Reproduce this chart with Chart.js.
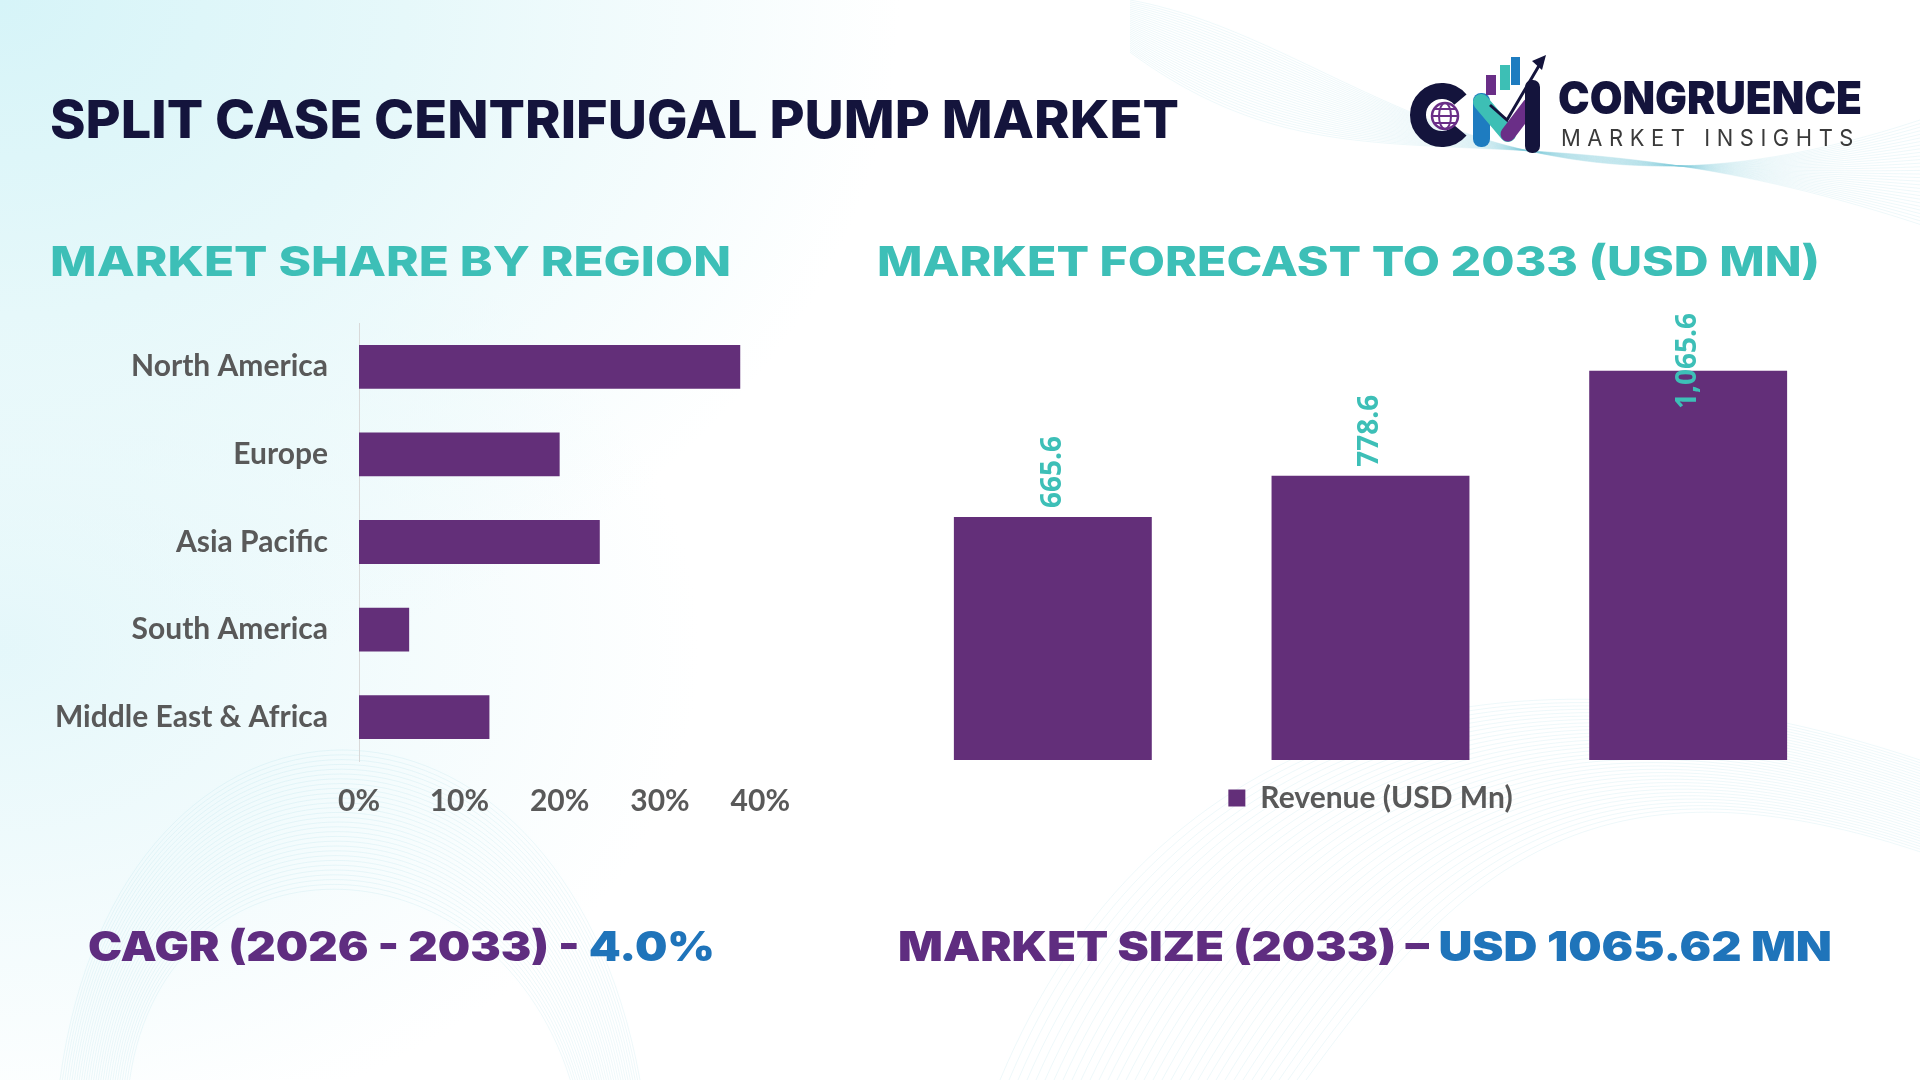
<!DOCTYPE html>
<html>
<head>
<meta charset="utf-8">
<script src="https://cdn.jsdelivr.net/npm/chart.js@4.4.1/dist/chart.umd.min.js"></script>
<style>
  html, body { margin: 0; padding: 0; }
  body {
    width: 1920px; height: 1080px; position: relative; overflow: hidden;
    background:
      radial-gradient(ellipse 900px 700px at 0% 0%, #d6f4f8 0%, #e6f8fa 45%, rgba(255,255,255,0) 100%),
      radial-gradient(ellipse 700px 500px at 0% 60%, #e4f7fa 0%, rgba(255,255,255,0) 100%),
      #ffffff;
    font-family: Inter, sans-serif;
  }
  #bg { position: absolute; left: 0; top: 0; }
  .t { position: absolute; white-space: nowrap; display: inline-block; line-height: 1;
       transform-origin: left top; font-family: Inter, sans-serif; }
  .navy { color: #14143c; font-weight: 800; }
  .teal { color: #3dbfb7; font-weight: 800; }
  .purple { color: #5f2d80; font-weight: 900; }
  .blue { color: #1f74ba; }
  canvas.chart { position: absolute; }
</style>
</head>
<body>
<canvas id="bg" width="1920" height="1080"></canvas>

<div class="t navy" style="left:50px; top:94px; font-size:52px;" data-w="1129">SPLIT CASE CENTRIFUGAL PUMP MARKET</div>
<div class="t teal" style="left:50px; top:241px; font-size:41px;" data-w="681">MARKET SHARE BY REGION</div>
<div class="t teal" style="left:877px; top:241px; font-size:41px;" data-w="943">MARKET FORECAST TO 2033 (USD MN)</div>
<div class="t purple" style="left:88px; top:926px; font-size:41px;" data-w="627">CAGR (2026 - 2033) - <span class="blue">4.0%</span></div>
<div class="t purple" style="left:898px; top:926px; font-size:41px;" data-w="934">MARKET SIZE (2033) – <span class="blue">USD 1065.62 MN</span></div>

<svg style="position:absolute; left:1390px; top:50px;" width="180" height="110" viewBox="0 0 180 110">
  <path d="M70.4 49.6 A24 24 0 1 0 70.4 80.4" fill="none" stroke="#14143c" stroke-width="16"/>
  <circle cx="55" cy="66" r="13" fill="#ffffff" stroke="#6a2e87" stroke-width="2.5"/>
  <ellipse cx="55" cy="66" rx="6" ry="13" fill="none" stroke="#6a2e87" stroke-width="2"/>
  <line x1="42" y1="66" x2="68" y2="66" stroke="#6a2e87" stroke-width="2"/>
  <line x1="44" y1="59" x2="66" y2="59" stroke="#6a2e87" stroke-width="2"/>
  <line x1="44" y1="73" x2="66" y2="73" stroke="#6a2e87" stroke-width="2"/>
  <rect x="83" y="43" width="17" height="54" rx="8" fill="#1e7cc0"/>
  <line x1="91" y1="52" x2="118" y2="84" stroke="#3dbfb5" stroke-width="16" stroke-linecap="round"/>
  <line x1="118" y1="84" x2="140" y2="55" stroke="#6a2e87" stroke-width="15" stroke-linecap="round"/>
  <rect x="135" y="30" width="15" height="73" rx="7" fill="#14143c"/>
  <rect x="96" y="25" width="10" height="20" fill="#6a2e87"/>
  <rect x="110" y="15" width="10" height="25" fill="#3dbfb5"/>
  <rect x="121" y="7" width="9" height="28" fill="#1e7cc0"/>
  <polyline points="100,55 117,70 150,14" fill="none" stroke="#14143c" stroke-width="3"/>
  <polygon points="156,5 142,11 152,20" fill="#14143c"/>
</svg>
<div class="t navy" style="left:1558px; top:75px; font-size:45px; font-weight:900;" data-w="304">CONGRUENCE</div>
<div class="t" style="left:1561px; top:127px; font-size:23px; font-weight:400; color:#3a3a3a; letter-spacing:0.3em;" data-w="299">MARKET INSIGHTS</div>

<canvas id="shareChart" class="chart" width="812" height="566" style="left:0px; top:274px;"></canvas>
<canvas id="forecastChart" class="chart" width="1000" height="560" style="left:880px; top:290px;"></canvas>

<script>
// region share (%)
const regions = ["North America", "Europe", "Asia Pacific", "South America", "Middle East & Africa"];
const shareValues = [38, 20, 24, 5, 13];
const shareTicks = [0, 10, 20, 30, 40];

// forecast (USD Mn)
const years = ["2021", "2025", "2033"];
const revenue = [665.6, 778.6, 1065.6];
const seriesName = "Revenue (USD Mn)";

const barColor = "#632f79";
const tealColor = "#3dbfb7";
const labelFont = { family: "Lato", size: 30, weight: "bold" };

// faint wave lines in background
function drawBackground() {
  const bg = document.getElementById("bg").getContext("2d");
  bg.lineWidth = 1;
  bg.strokeStyle = "rgba(120,200,220,0.13)";
  for (let i = 0; i < 30; i++) {
    const o = i * 6;
    bg.beginPath();
    bg.moveTo(1130, o * 0.3);
    bg.bezierCurveTo(1350, 40 + o, 1500, 260 - o, 1920, 120 + o * 0.6);
    bg.stroke();
  }
  for (let i = 0; i < 30; i++) {
    const r = i * 8;
    bg.beginPath();
    bg.moveTo(60 + r * 0.3, 1080);
    bg.bezierCurveTo(120 + r * 0.2, 640 + r * 0.8, 560 - r * 0.3, 640 + r * 0.8, 640 - r * 0.3, 1080);
    bg.stroke();
  }
  for (let i = 0; i < 35; i++) {
    const o = i * 9;
    bg.beginPath();
    bg.moveTo(1000 + o, 1080);
    bg.bezierCurveTo(1150 + o, 720 + o * 0.5, 1500 + o * 0.3, 620 + o * 0.4, 1920, 760 + o * 0.3);
    bg.stroke();
  }
}

function fitTitles() {
  document.querySelectorAll(".t[data-w]").forEach(el => {
    const w = el.getBoundingClientRect().width;
    el.style.transform = "scaleX(" + (Number(el.dataset.w) / w) + ")";
  });
}

// rotated value labels above the forecast bars
const valueLabels = {
  id: "valueLabels",
  afterDatasetsDraw(chart) {
    const ctx = chart.ctx;
    const meta = chart.getDatasetMeta(0);
    ctx.save();
    ctx.font = "bold 28px 'Open Sans'";
    ctx.fillStyle = tealColor;
    ctx.textAlign = "left";
    ctx.textBaseline = "middle";
    meta.data.forEach((bar, i) => {
      const txt = revenue[i].toLocaleString("en-US", { minimumFractionDigits: 1, maximumFractionDigits: 1 });
      const len = ctx.measureText(txt).width;
      let start = bar.y - 9;
      if (start - len < chart.chartArea.top) start = chart.chartArea.top + len;
      ctx.save();
      ctx.translate(bar.x, start);
      ctx.rotate(-Math.PI / 2);
      ctx.fillText(txt, 0, 0);
      ctx.restore();
    });
    ctx.restore();
  }
};

function drawCharts() {
  new Chart(document.getElementById("shareChart").getContext("2d"), {
    type: "bar",
    data: {
      labels: regions,
      datasets: [{ data: shareValues, backgroundColor: barColor, categoryPercentage: 1, barPercentage: 0.5 }]
    },
    options: {
      indexAxis: "y",
      responsive: false,
      animation: false,
      devicePixelRatio: 1,
      layout: { padding: 0 },
      plugins: { legend: { display: false }, tooltip: { enabled: false } },
      scales: {
        x: {
          min: shareTicks[0], max: shareTicks[shareTicks.length - 1],
          afterBuildTicks: s => { s.ticks = shareTicks.map(v => ({ value: v })); },
          afterFit: s => { s.height = 79; },
          grid: { display: false, drawTicks: false },
          border: { display: false },
          ticks: { padding: 22, color: "#595959", font: labelFont, callback: v => v + "%" }
        },
        y: {
          afterFit: s => { s.width = 359; },
          grid: { display: false, drawTicks: false },
          border: { display: true, color: "#d9d9d9", width: 1 },
          ticks: { padding: 31, color: "#595959", font: labelFont }
        }
      }
    }
  });

  new Chart(document.getElementById("forecastChart").getContext("2d"), {
    type: "bar",
    data: {
      labels: years,
      datasets: [{ label: seriesName, data: revenue, backgroundColor: barColor, borderWidth: 0,
                   categoryPercentage: 1, barPercentage: 0.623 }]
    },
    options: {
      responsive: false,
      animation: false,
      devicePixelRatio: 1,
      layout: { padding: { top: 23, right: 33, left: 14, bottom: 27 } },
      plugins: {
        tooltip: { enabled: false },
        legend: {
          position: "bottom",
          labels: { boxWidth: 17, boxHeight: 17, padding: 23, color: "#595959", font: labelFont }
        }
      },
      scales: {
        x: { display: false },
        y: { display: false, min: 0, max: 1224 }
      }
    },
    plugins: [valueLabels]
  });
}

drawBackground();
document.fonts.ready.then(() => {
  fitTitles();
  drawCharts();
});
</script>
</body>
</html>
